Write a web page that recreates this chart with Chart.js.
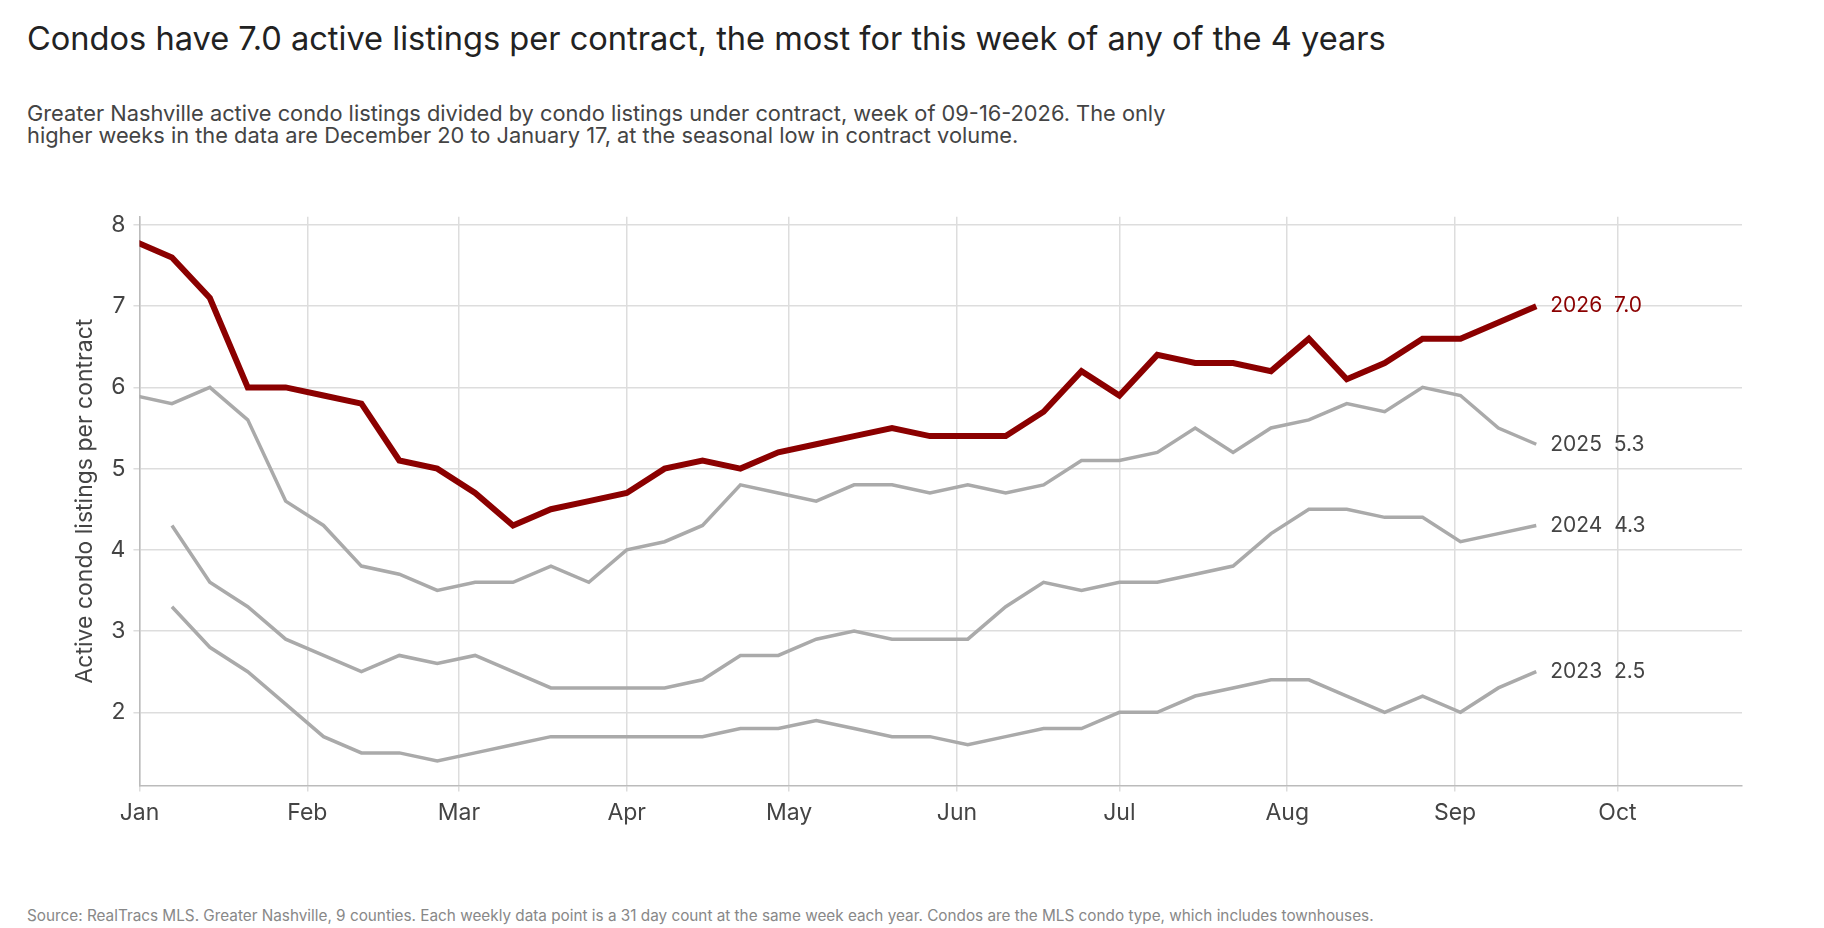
<!DOCTYPE html>
<html><head><meta charset="utf-8">
<script src="https://cdn.jsdelivr.net/npm/chart.js@4"></script>
<style>
body{margin:0;width:1824px;height:928px;background:#fff;font-family:Inter,"Liberation Sans",sans-serif;position:relative;overflow:hidden}
#t{position:absolute;left:27px;top:18px;font-size:32.6px;color:#222}
#s{position:absolute;left:27px;top:102px;font-size:21.8px;color:#444;line-height:22px;width:1300px}
#src{position:absolute;left:27px;top:906px;font-size:15.3px;color:#888}
#w{position:absolute;left:0;top:195px;width:1824px;height:640px}
</style></head><body>
<div id="t">Condos have 7.0 active listings per contract, the most for this week of any of the 4 years</div>
<div id="s">Greater Nashville active condo listings divided by condo listings under contract, week of 09-16-2026. The only<br>higher weeks in the data are December 20 to January 17, at the seasonal low in contract volume.</div>
<div id="w"><canvas id="c"></canvas></div>
<div id="src">Source: RealTracs MLS. Greater Nashville, 9 counties. Each weekly data point is a 31 day count at the same week each year. Condos are the MLS condo type, which includes townhouses.</div>
<script>
const monthLabels=["Jan","Feb","Mar","Apr","May","Jun","Jul","Aug","Sep","Oct"];
const monthDays=[0,31,59,90,120,151,181,212,243,273];
const y2026=[7.8,7.6,7.1,6.0,6.0,5.9,5.8,5.1,5.0,4.7,4.3,4.5,4.6,4.7,5.0,5.1,5.0,5.2,5.3,5.4,5.5,5.4,5.4,5.4,5.7,6.2,5.9,6.4,6.3,6.3,6.2,6.6,6.1,6.3,6.6,6.6,6.8,7.0];
const y2025=[5.9,5.8,6.0,5.6,4.6,4.3,3.8,3.7,3.5,3.6,3.6,3.8,3.6,4.0,4.1,4.3,4.8,4.7,4.6,4.8,4.8,4.7,4.8,4.7,4.8,5.1,5.1,5.2,5.5,5.2,5.5,5.6,5.8,5.7,6.0,5.9,5.5,5.3];
const y2024=[null,4.3,3.6,3.3,2.9,2.7,2.5,2.7,2.6,2.7,2.5,2.3,2.3,2.3,2.3,2.4,2.7,2.7,2.9,3.0,2.9,2.9,2.9,3.3,3.6,3.5,3.6,3.6,3.7,3.8,4.2,4.5,4.5,4.4,4.4,4.1,4.2,4.3];
const y2023=[null,3.3,2.8,2.5,2.1,1.7,1.5,1.5,1.4,1.5,1.6,1.7,1.7,1.7,1.7,1.7,1.8,1.8,1.9,1.8,1.7,1.7,1.6,1.7,1.8,1.8,2.0,2.0,2.2,2.3,2.4,2.4,2.2,2.0,2.2,2.0,2.3,2.5];
const lastDay=258;
const days=y2026.map((_,i)=>lastDay-7*(y2026.length-1-i));
const pts=a=>a.map((v,i)=>({x:days[i],y:v})).filter(p=>p.y!==null);
const series=[
 {label:"2023",data:y2023,color:"#aaaaaa",w:3.5,lc:"#444"},
 {label:"2024",data:y2024,color:"#aaaaaa",w:3.5,lc:"#444"},
 {label:"2025",data:y2025,color:"#aaaaaa",w:3.5,lc:"#444"},
 {label:"2026",data:y2026,color:"#8b0000",w:6,lc:"#8b0000"}];
const endLabels={id:"endLabels",afterDatasetsDraw(ch){const c=ch.ctx;c.save();c.font="21px Inter, sans-serif";c.textBaseline="middle";
 ch.data.datasets.forEach((d,i)=>{const m=ch.getDatasetMeta(i);const p=m.data[m.data.length-1];const v=d.data[d.data.length-1].y;
 c.fillStyle=series[i].lc;c.fillText(d.label+"  "+v.toFixed(1),p.x+14,p.y);});c.restore();}};
new Chart(document.getElementById("c"),{type:"line",
 data:{datasets:series.map(s=>({label:s.label,data:pts(s.data),borderColor:s.color,borderWidth:s.w,pointRadius:0,tension:0,fill:false}))},
 options:{responsive:true,maintainAspectRatio:false,animation:false,
  layout:{padding:{left:67,right:82,top:10,bottom:0}},
  plugins:{legend:{display:false},tooltip:{enabled:false}},
  scales:{
   x:{type:"linear",min:0,max:296,afterBuildTicks:a=>{a.ticks=monthDays.map(v=>({value:v}))},
    ticks:{callback:v=>monthLabels[monthDays.indexOf(v)],color:"#444",font:{size:23,family:"Inter"},padding:8,maxRotation:0},
    grid:{color:"#dddddd",lineWidth:1.5,drawTicks:true,tickLength:6},border:{color:"#bbb",width:1.5}},
   y:{min:1.1,max:8.1,afterBuildTicks:a=>{a.ticks=[2,3,4,5,6,7,8].map(v=>({value:v}))},
    ticks:{color:"#444",font:{size:23,family:"Inter"},padding:8},
    title:{display:true,text:"Active condo listings per contract",color:"#444",font:{size:23,family:"Inter"}},
    grid:{color:"#dddddd",lineWidth:1.5,tickLength:6},border:{color:"#bbb",width:1.5}}}},
 plugins:[endLabels]});
</script></body></html>
